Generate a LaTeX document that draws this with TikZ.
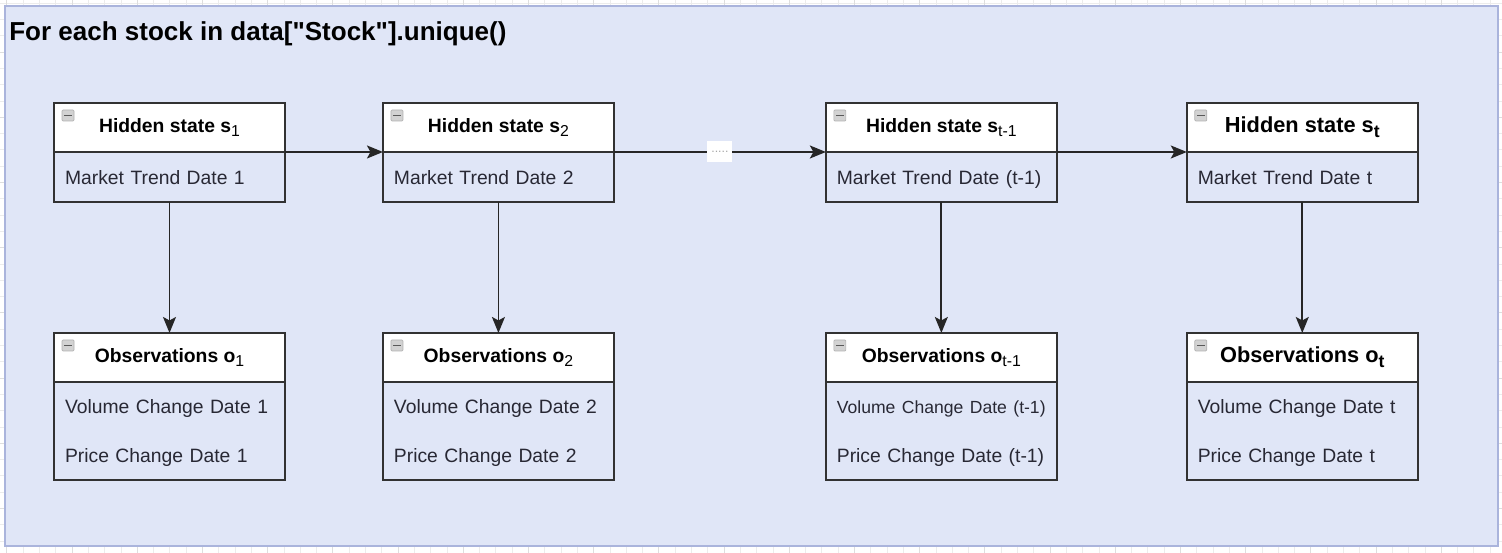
\documentclass[tikz,border=0pt]{standalone}
\usepackage{fontspec}
\setmainfont{Liberation Sans}[Ligatures=TeXOff]
\usepackage{xcolor}
\usepackage{tikz}
\usetikzlibrary{arrows.meta, positioning}

\definecolor{panelfill}{RGB}{224,230,247}
\definecolor{panelline}{RGB}{170,180,220}
\definecolor{gridline}{RGB}{236,236,236}
\definecolor{gridmajor}{RGB}{222,222,222}
\definecolor{boxline}{RGB}{50,50,50}
\definecolor{bodytext}{RGB}{40,40,52}

% subscripts of the box titles
\newcommand{\sbs}[1]{\raisebox{-0.45ex}{\fontsize{9}{10}\selectfont\mdseries #1}}
\newcommand{\sbsbig}[1]{\raisebox{-0.45ex}{\fontsize{10}{11}\selectfont #1}}

\begin{document}
\begin{tikzpicture}[
    x=0.02cm, y=-0.02cm,
    hdr/.style={rectangle, draw=boxline, line width=1pt, outer sep=0pt, fill=white, minimum width=4.62cm, minimum height=0.98cm, inner sep=0pt, font=\fontsize{11}{13}\selectfont\bfseries},
    bighdr/.style={hdr, font=\fontsize{12.4}{14}\selectfont\bfseries},
    body/.style={rectangle, draw=boxline, line width=1pt, outer sep=0pt, text width=4.18cm, inner xsep=0.22cm, inner ysep=0pt, align=left, text=bodytext, font=\fontsize{11}{27.9}\selectfont, execute at begin node=\rule[-2.3pt]{0pt}{12.6pt}},
    arrow/.style={-{Stealth[length=3.2mm, width=2.6mm, inset=0.7mm]}, line width=1pt, black!85}
]
\useasboundingbox (0,0) rectangle (1502,553);

% grid of the canvas
\foreach \k in {0,...,92} {
  \draw[gridline, line width=0.4pt] ({6.8+16.3*\k},0) -- ({6.8+16.3*\k},553);
}
\foreach \k in {0,...,34} {
  \draw[gridline, line width=0.4pt] (0,{3.1+16.3*\k}) -- (1502,{3.1+16.3*\k});
}
\foreach \k in {0,...,23} {
  \draw[gridmajor, line width=0.5pt] ({6.8+65.2*\k},0) -- ({6.8+65.2*\k},553);
}
\foreach \k in {0,...,9} {
  \draw[gridmajor, line width=0.5pt] (0,{-13.2+65.2*\k}) -- (1502,{-13.2+65.2*\k});
}

% container
\draw[panelline, fill=panelfill, line width=1.3pt] (5,6) rectangle (1498,546);
\node[anchor=base west, inner sep=0pt, font=\fontsize{14.8}{17}\selectfont\bfseries] (ttl) at (9,41) {For each stock in data["Stock"].unique()};

% hidden states
\node[hdr] (hs1) at (169.5,127.5) {Hidden state s\sbs{1}};
\node[body, below=0pt of hs1, minimum height=1cm] (mt1) {Market Trend Date 1};

\node[hdr, right=1.96cm of hs1] (hs2) {Hidden state s\sbs{2}};
\node[body, below=0pt of hs2, minimum height=1cm] (mt2) {Market Trend Date 2};

\node[hdr, right=4.24cm of hs2] (hs3) {Hidden state s\sbs{t-1}};
\node[body, below=0pt of hs3, minimum height=1cm] (mt3) {Market Trend Date (t-1)};

\node[bighdr, right=2.6cm of hs3] (hs4) {Hidden state s\sbsbig{t}};
\node[body, below=0pt of hs4, minimum height=1cm] (mt4) {Market Trend Date t};

% observations
\node[hdr, below=2.62cm of mt1] (ob1) {Observations o\sbs{1}};
\node[body, below=0pt of ob1, minimum height=1.96cm] (ov1) {Volume Change Date 1\\Price Change Date 1};

\node[hdr, below=2.62cm of mt2] (ob2) {Observations o\sbs{2}};
\node[body, below=0pt of ob2, minimum height=1.96cm] (ov2) {Volume Change Date 2\\Price Change Date 2};

\node[hdr, below=2.62cm of mt3] (ob3) {Observations o\sbs{t-1}};
\node[body, below=0pt of ob3, minimum height=1.96cm] (ov3) {\mbox{\fontsize{10}{27.9}\selectfont Volume Change Date (t-1)}\\Price Change Date (t-1)};

\node[bighdr, below=2.62cm of mt4] (ob4) {Observations o\sbsbig{t}};
\node[body, below=0pt of ob4, minimum height=1.96cm] (ov4) {Volume Change Date t\\Price Change Date t};

% collapse icons
\foreach \h in {hs1,hs2,hs3,hs4,ob1,ob2,ob3,ob4} {
  \draw[gray!60, fill=gray!35, line width=0.4pt, rounded corners=0.6pt] ([shift={(8,7)}]\h.north west) rectangle ([shift={(20,18)}]\h.north west);
  \draw[black!65, line width=0.9pt] ([shift={(10,12.5)}]\h.north west) -- ([shift={(18,12.5)}]\h.north west);
}

% transitions
\draw[arrow] (hs1.south east) -- (hs2.south west);
\draw[arrow] (hs2.south east) -- node[fill=white, minimum width=0.5cm, minimum height=0.42cm, inner sep=0pt, text=gray!70, font=\fontsize{7}{8}\selectfont] (gap) {.....} (hs3.south west);
\draw[arrow] (hs3.south east) -- (hs4.south west);

% emissions
\foreach \i in {1,2,3,4} {
  \draw[arrow] (mt\i.south) -- (ob\i.north);
}
\end{tikzpicture}
\end{document}
